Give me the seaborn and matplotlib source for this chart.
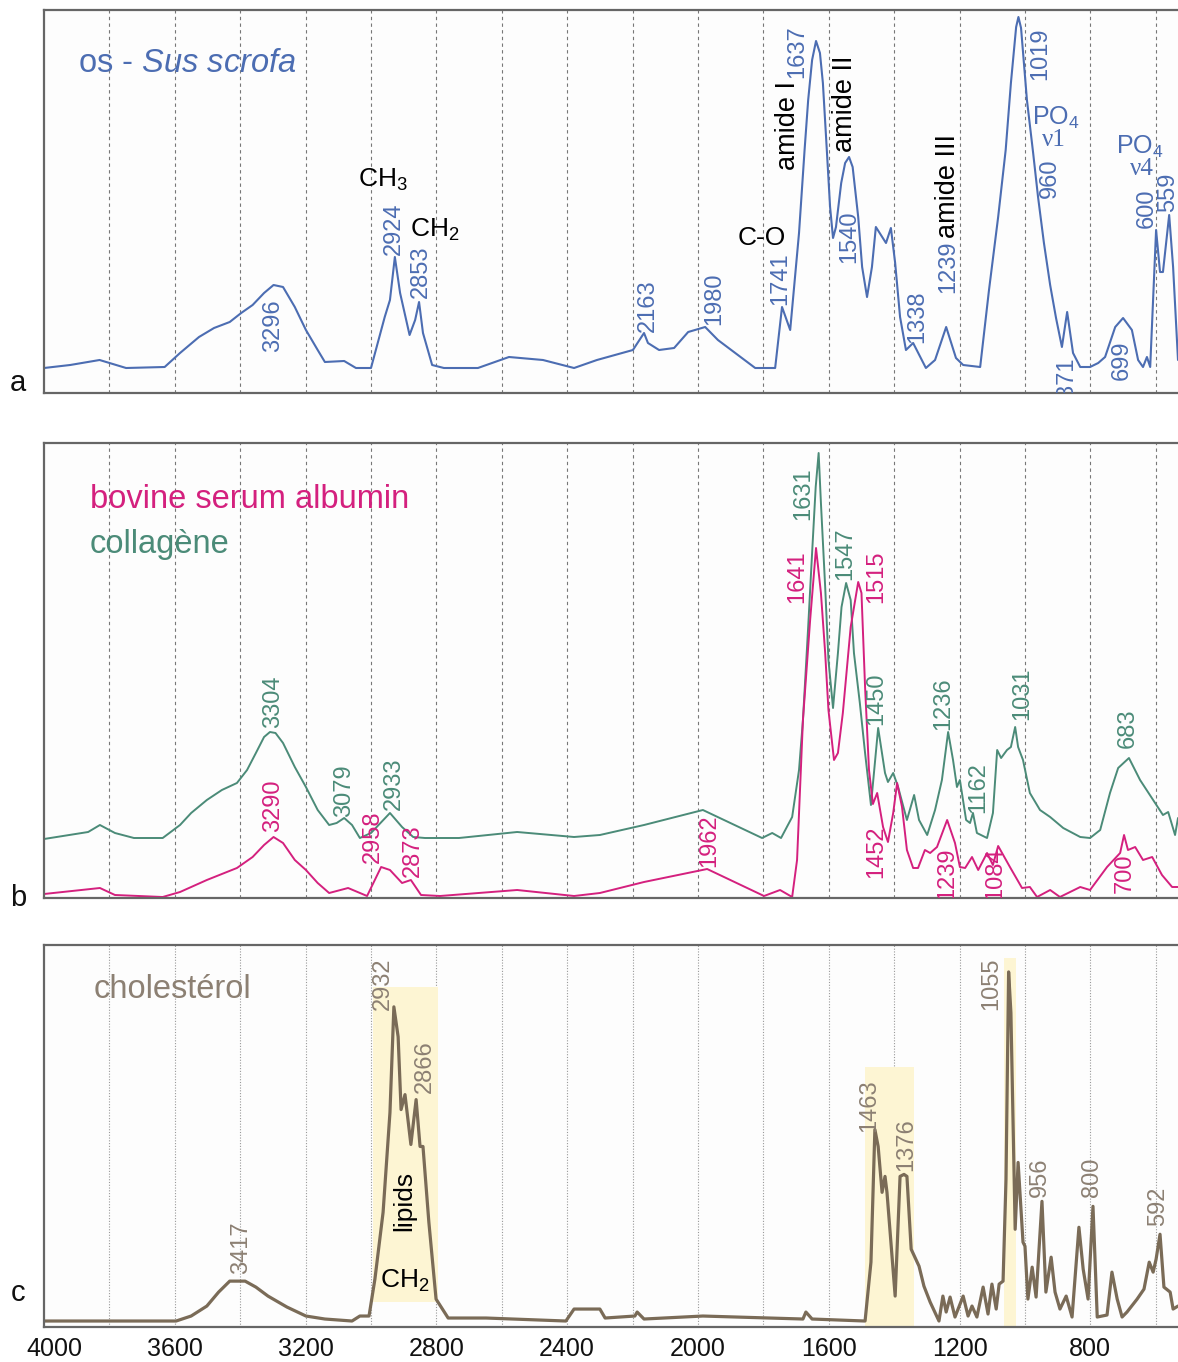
import matplotlib
matplotlib.use("Agg")
import matplotlib.pyplot as plt
import matplotlib.transforms as mtrans
import seaborn as sns

# ---- spectra (wavenumber cm-1, relative absorbance) ----
os_wn = [4000, 3920, 3830, 3749, 3631, 3584, 3526, 3480, 3432, 3397, 3362, 3327, 3298, 3269,
         3233, 3199, 3163, 3141, 3082, 3046, 3000, 2958, 2942, 2927, 2911, 2882, 2865, 2853,
         2841, 2813, 2777, 2673, 2578, 2474, 2379, 2309, 2199, 2165, 2153, 2119, 2073, 2030,
         1978, 1939, 1825, 1764, 1743, 1718, 1691, 1674, 1663, 1651, 1639, 1627, 1618, 1606,
         1596, 1587, 1578, 1562, 1550, 1538, 1527, 1510, 1498, 1483, 1468, 1456, 1425, 1410,
         1397, 1382, 1364, 1342, 1303, 1275, 1241, 1211, 1189, 1137, 1110, 1082, 1059, 1043,
         1027, 1020, 1012, 994, 975, 960, 942, 923, 905, 887, 871, 853, 831, 801, 776, 755,
         724, 700, 673, 654, 639, 627, 617, 599, 587, 578, 559, 547, 532]
os_abs = [25, 28, 33, 25, 26, 40, 56, 65, 71, 80, 88, 100, 108, 106,
          86, 63, 43, 31, 32, 25, 25, 76, 93, 136, 100, 58, 73, 91,
          60, 28, 25, 25, 36, 33, 25, 33, 43, 60, 50, 43, 45, 61,
          66, 53, 25, 25, 86, 63, 160, 243, 293, 333, 352, 340, 310, 243,
          186, 155, 166, 210, 230, 236, 226, 176, 126, 96, 126, 166, 150, 165,
          130, 76, 43, 50, 25, 33, 66, 35, 28, 26, 103, 176, 243, 310,
          366, 376, 365, 293, 240, 196, 150, 108, 75, 46, 81, 40, 26, 26, 30, 36,
          66, 75, 63, 33, 26, 36, 26, 163, 121, 121, 178, 126, 33]

col_wn = [4000, 3865, 3829, 3783, 3725, 3637, 3584, 3550, 3502, 3456, 3410, 3379, 3352, 3327,
          3309, 3292, 3269, 3233, 3199, 3163, 3128, 3105, 3082, 3058, 3034, 3000, 2942, 2905,
          2871, 2835, 2731, 2553, 2379, 2300, 2165, 1985, 1804, 1773, 1746, 1712, 1691, 1679,
          1663, 1651, 1640, 1631, 1624, 1611, 1601, 1587, 1572, 1561, 1547, 1533, 1523, 1505,
          1489, 1471, 1449, 1428, 1419, 1403, 1388, 1361, 1339, 1324, 1299, 1275, 1254, 1235,
          1220, 1208, 1199, 1180, 1168, 1159, 1147, 1116, 1098, 1085, 1073, 1055, 1043, 1030,
          1021, 1006, 985, 954, 923, 883, 831, 801, 770, 740, 715, 682, 648, 608, 578, 562,
          541, 532]
col_abs = [59, 66, 73, 65, 60, 60, 73, 85, 98, 108, 115, 128, 145, 161,
           166, 165, 155, 131, 111, 88, 73, 75, 80, 73, 60, 65, 85, 71,
           61, 60, 60, 66, 61, 63, 73, 88, 60, 65, 60, 81, 128, 178,
           271, 345, 411, 445, 395, 311, 238, 190, 245, 291, 315, 298, 245, 195,
           145, 93, 170, 125, 116, 125, 111, 78, 103, 78, 63, 88, 118, 166,
           138, 111, 118, 78, 75, 85, 65, 60, 85, 148, 140, 148, 151, 171,
           151, 138, 105, 88, 81, 70, 61, 60, 68, 105, 130, 140, 118, 98, 83, 86,
           63, 80]

bsa_wn = [4000, 3829, 3783, 3637, 3584, 3502, 3410, 3362, 3327, 3298, 3269, 3233, 3199, 3163,
          3128, 3070, 3012, 2969, 2942, 2905, 2878, 2847, 2789, 2553, 2379, 2300, 2165, 1972,
          1798, 1749, 1712, 1697, 1679, 1657, 1639, 1624, 1611, 1601, 1584, 1572, 1557, 1533,
          1510, 1500, 1489, 1477, 1465, 1452, 1434, 1419, 1403, 1391, 1376, 1361, 1342, 1327,
          1306, 1290, 1269, 1238, 1214, 1199, 1183, 1162, 1143, 1116, 1098, 1082, 1046, 1009,
          985, 963, 923, 893, 831, 801, 749, 709, 697, 685, 663, 639, 611, 581, 550, 532]
bsa_abs = [4, 10, 3, 1, 6, 18, 30, 41, 53, 61, 55, 38, 28, 15,
           5, 10, 2, 31, 28, 15, 18, 3, 2, 8, 2, 5, 16, 29,
           2, 8, 1, 38, 178, 278, 350, 305, 245, 188, 138, 145, 185, 271,
           316, 305, 211, 128, 94, 105, 71, 56, 85, 115, 91, 48, 30, 30,
           48, 45, 51, 78, 55, 31, 30, 41, 28, 45, 33, 52, 31, 10,
           11, 1, 8, 1, 11, 8, 31, 45, 63, 48, 51, 38, 41, 23, 11, 11]

chol_wn = [4000, 3596, 3550, 3502, 3466, 3432, 3385, 3352, 3315, 3257, 3199, 3141, 3058, 3034,
           3006, 2988, 2963, 2942, 2930, 2917, 2908, 2896, 2878, 2862, 2850, 2841, 2823, 2801,
           2764, 2648, 2404, 2379, 2300, 2284, 2193, 2186, 2165, 1985, 1679, 1670, 1651, 1489,
           1471, 1459, 1449, 1437, 1428, 1422, 1397, 1382, 1370, 1361, 1348, 1324, 1309, 1290,
           1263, 1251, 1241, 1229, 1214, 1189, 1174, 1162, 1147, 1128, 1113, 1101, 1088, 1079,
           1067, 1058, 1050, 1043, 1030, 1021, 1006, 1000, 991, 978, 966, 948, 936, 920, 908,
           893, 874, 856, 835, 822, 807, 792, 779, 749, 734, 718, 703, 688, 657, 636, 620, 608,
           599, 587, 575, 556, 547, 532]
chol_abs = [6, 6, 11, 21, 35, 46, 46, 40, 31, 20, 11, 8, 6, 11,
            11, 48, 115, 215, 321, 291, 218, 233, 183, 228, 181, 181, 105, 28,
            9, 9, 6, 18, 18, 9, 11, 15, 8, 11, 8, 15, 8, 6,
            65, 198, 181, 135, 151, 135, 31, 151, 153, 151, 78, 61, 41, 25,
            6, 31, 15, 30, 10, 31, 11, 21, 10, 40, 13, 43, 18, 43,
            46, 148, 356, 315, 98, 165, 85, 81, 28, 60, 30, 126, 35, 70, 35,
            18, 31, 10, 100, 58, 28, 121, 10, 12, 55, 28, 10, 15, 28, 38, 65, 55,
            68, 93, 40, 35, 18, 21]

tick_values = [4000, 3600, 3200, 2800, 2400, 2000, 1600, 1200, 800]
grid_values = list(range(3800, 500, -200))

# ---- colours ----
c_blue = "#4c6db2"
c_pink = "#d4207e"
c_green = "#4b8b78"
c_brown = "#7a6b57"
c_brown_txt = "#8c8073"
c_band = "#fdf5d3"

sns.set_theme(style="white")
plt.rcParams["font.family"] = ["Liberation Sans", "DejaVu Sans"]
plt.rcParams["mathtext.fontset"] = "custom"
plt.rcParams["mathtext.rm"] = "Liberation Sans"
plt.rcParams["mathtext.it"] = "Liberation Sans:italic"

W, H = 1178, 1362
fig = plt.figure(figsize=(W / 100, H / 100), dpi=100)
fig.patch.set_facecolor("white")

def make_ax(top, bottom, ymax, grid_ls=(0, (3, 3)), grid_c="#777777"):
    ax = fig.add_axes([44 / W, 1 - bottom / H, 1 - 44 / W, (bottom - top) / H])
    ax.set_facecolor("#fdfdfd")
    ax.set_xlim(4000, 532)
    ax.set_ylim(0, ymax)
    ax.set_yticks([])
    ax.set_xticks(tick_values)
    ax.tick_params(axis="x", which="both", length=0, labelsize=18, pad=7, labelcolor="#111111")
    ax.grid(False)
    for g in grid_values:
        ax.axvline(g, color=grid_c, lw=0.8, ls=grid_ls, zorder=0)
    for s in ["left", "top", "bottom"]:
        ax.spines[s].set_color("#666666")
        ax.spines[s].set_linewidth(1.6)
    ax.spines["right"].set_visible(False)
    return ax

ax_a = make_ax(10, 393, 383)
ax_b = make_ax(443, 898, 455)
ax_c = make_ax(945, 1327, 383, grid_ls=(0, (1, 1.5)), grid_c="#999999")
ax_a.set_xticklabels([])
ax_b.set_xticklabels([])
first = ax_c.get_xticklabels()[0]
first.set_transform(first.get_transform() + mtrans.ScaledTranslation(0.1, 0, fig.dpi_scale_trans))

# ---- curves ----
sns.lineplot(x=os_wn, y=os_abs, ax=ax_a, color=c_blue, lw=1.5, sort=False, estimator=None)
sns.lineplot(x=col_wn, y=col_abs, ax=ax_b, color=c_green, lw=1.4, sort=False, estimator=None)
sns.lineplot(x=bsa_wn, y=bsa_abs, ax=ax_b, color=c_pink, lw=1.4, sort=False, estimator=None)
ax_c.fill_between([2994, 2795], 25, 341, color=c_band, lw=0, zorder=0.5)
ax_c.fill_between([1489, 1339], 0, 261, color=c_band, lw=0, zorder=0.5)
ax_c.fill_between([1064, 1027], 0, 370, color=c_band, lw=0, zorder=0.5)
sns.lineplot(x=chol_wn, y=chol_abs, ax=ax_c, color=c_brown, lw=2.3, sort=False, estimator=None)

# ---- labels ----
def vlab(ax, txt, x, y, color, size=17):
    ax.text(x, y, txt, rotation=90, ha="center", va="bottom", color=color,
            fontsize=size, clip_on=True)

def hlab(ax, txt, x, y, color, size=19, ha="center", **kw):
    ax.text(x, y, txt, ha=ha, va="center", color=color, fontsize=size, **kw)

ax_a.text(3895, 330, r"os - $\mathit{Sus\ scrofa}$", color=c_blue, fontsize=23.5, va="center")
for t, x, y in [("3296", 3298, 41), ("2924", 2930, 138), ("2853", 2847, 95), ("2163", 2153, 61),
                ("1980", 1951, 68), ("1741", 1747, 88), ("1637", 1697, 315), ("1540", 1538, 130),
                ("1338", 1330, 50), ("1239", 1235, 100), ("1019", 954, 313), ("960", 923, 195),
                ("871", 871, -4), ("699", 703, 13), ("600", 627, 165), ("559", 562, 181)]:
    vlab(ax_a, t, x, y, c_blue)
for t, x, y in [("amide I", 1725, 223), ("amide II", 1550, 241), ("amide III", 1235, 155)]:
    vlab(ax_a, t, x, y, "black", size=19.5)
hlab(ax_a, r"CH$_3$", 2963, 213, "black")
hlab(ax_a, r"CH$_2$", 2804, 163, "black")
hlab(ax_a, "C-O", 1804, 155, "black")
hlab(ax_a, r"PO$_4$", 905, 275, c_blue, size=18)
hlab(ax_a, "ν1", 911, 253, c_blue, size=18, family=["Liberation Serif", "DejaVu Serif"])
hlab(ax_a, r"PO$_4$", 648, 246, c_blue, size=18)
hlab(ax_a, "ν4", 642, 224, c_blue, size=18, family=["Liberation Serif", "DejaVu Serif"])

ax_b.text(3859, 398, "bovine serum albumin", color=c_pink, fontsize=23.5, va="center")
ax_b.text(3859, 353, "collagène", color=c_green, fontsize=23.5, va="center")
for t, x, y in [("3304", 3298, 170), ("3079", 3082, 81), ("2933", 2930, 88), ("1631", 1679, 378),
                ("1547", 1550, 318), ("1450", 1456, 173), ("1236", 1251, 168), ("1162", 1143, 85),
                ("1031", 1009, 178), ("683", 685, 150)]:
    vlab(ax_b, t, x, y, c_green)
for t, x, y in [("3290", 3298, 66), ("2958", 2994, 35), ("2873", 2871, 21), ("1962", 1966, 31),
                ("1641", 1697, 295), ("1515", 1456, 295), ("1452", 1456, 20), ("1239", 1238, -2),
                ("1084", 1091, -2), ("700", 694, 5)]:
    vlab(ax_b, t, x, y, c_pink)

ax_c.text(3847, 338, "cholestérol", color=c_brown_txt, fontsize=23.5, va="center")
for t, x, y in [("3417", 3397, 53), ("2932", 2963, 318), ("2866", 2835, 235), ("1055", 1104, 318),
                ("1463", 1477, 196), ("1376", 1364, 156), ("956", 954, 130), ("800", 795, 130),
                ("592", 593, 101)]:
    vlab(ax_c, t, x, y, c_brown_txt)
vlab(ax_c, "lipids", 2899, 96, "black", size=19)
hlab(ax_c, r"CH$_2$", 2896, 46, "black")

for lab, y in [("a", 383), ("b", 898), ("c", 1293)]:
    fig.text(18 / W, 1 - y / H, lab, ha="center", va="center", fontsize=21, color="#111111")

fig.savefig("out.png", dpi=100, facecolor="white")
